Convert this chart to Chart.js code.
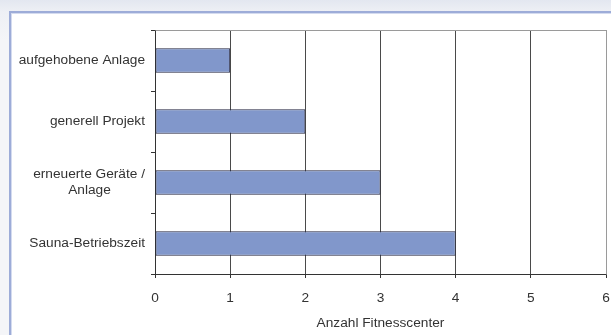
<!DOCTYPE html>
<html>
<head>
<meta charset="utf-8">
<script src="https://cdn.jsdelivr.net/npm/chart.js@4/dist/chart.umd.min.js"></script>
<style>
  html, body { margin: 0; padding: 0; }
  body {
    width: 611px; height: 335px; overflow: hidden; position: relative;
    background: linear-gradient(to bottom, #e3e7f0 0px, #eef0f5 12px, #f4f5f8 40px);
  }
  .panel {
    position: absolute; left: 9px; top: 11px; right: 0; bottom: 0;
    background: #fff;
    border-left: 2px solid #9dacd8; border-top: 2px solid #9dacd8;
    box-shadow: inset 1px 1px 0 #d4dbef;
  }
  #chart { position: absolute; left: 0; top: 0; }
</style>
</head>
<body>
<div class="panel"></div>
<canvas id="chart" width="611" height="335"></canvas>
<script>
const categories = [
  'aufgehobene Anlage',
  'generell Projekt',
  ['erneuerte Geräte /', 'Anlage'],
  'Sauna-Betriebszeit'
];
const counts = [1, 2, 3, 4];
const xTicks = [0, 1, 2, 3, 4, 5, 6];
const xTitle = 'Anzahl Fitnesscenter';

const fontFamily = '"Liberation Sans", Arial, sans-serif';
const fontSize = 13.7;
const textColor = '#333333';

// centre the lines of a two-line label, like the original
const measureCtx = document.createElement('canvas').getContext('2d');
measureCtx.font = fontSize + 'px ' + fontFamily;
const spaceWidth = measureCtx.measureText(' ').width;
function centreLines(lines) {
  const widths = lines.map(l => measureCtx.measureText(l).width);
  const widest = Math.max(...widths);
  return lines.map((l, i) => {
    const pad = Math.round((widest - widths[i]) / 2 / spaceWidth);
    return l + ' '.repeat(pad);
  });
}

// thin grey frame around the plot area (top and right)
const plotFrame = {
  id: 'plotFrame',
  afterDatasetsDraw(chart) {
    const { ctx, chartArea: a } = chart;
    ctx.save();
    ctx.strokeStyle = '#9a9a9a';
    ctx.lineWidth = 1;
    ctx.beginPath();
    ctx.moveTo(Math.round(a.left) + 0.5, Math.round(a.top) + 0.5);
    ctx.lineTo(Math.round(a.right) + 0.5, Math.round(a.top) + 0.5);
    ctx.lineTo(Math.round(a.right) + 0.5, Math.round(a.bottom) + 0.5);
    ctx.stroke();
    ctx.restore();
  }
};

new Chart(document.getElementById('chart'), {
  type: 'bar',
  data: {
    labels: categories,
    datasets: [{
      data: counts,
      backgroundColor: '#8197cb',
      borderColor: '#23253f',
      borderWidth: 1,
      borderSkipped: false,
      barPercentage: 0.4,
      categoryPercentage: 1
    }]
  },
  options: {
    indexAxis: 'y',
    responsive: false,
    animation: false,
    layout: { padding: { top: 30, right: 5, left: 0, bottom: 0 } },
    plugins: { legend: { display: false }, tooltip: { enabled: false } },
    scales: {
      x: {
        min: 0,
        max: 6,
        afterBuildTicks: scale => { scale.ticks = xTicks.map(v => ({ value: v })); },
        afterFit: scale => {
          scale.height = 61;
          scale.paddingLeft = 0;
          scale.paddingRight = 0;
        },
        grid: {
          color: ctx => (ctx.tick && ctx.tick.value === 6 ? '#9a9a9a' : '#4a4a4a'),
          tickLength: 4,
          tickColor: '#333333'
        },
        border: { color: '#333333' },
        ticks: {
          padding: 12,
          color: textColor,
          font: { family: fontFamily, size: fontSize }
        },
        title: {
          display: true,
          text: xTitle,
          color: textColor,
          font: { family: fontFamily, size: fontSize },
          padding: { top: 0, bottom: 4 }
        }
      },
      y: {
        afterFit: scale => { scale.width = 155; },
        grid: {
          drawOnChartArea: false,
          tickLength: 4,
          color: '#333333'
        },
        border: { color: '#333333' },
        ticks: {
          padding: 6,
          color: textColor,
          font: { family: fontFamily, size: fontSize },
          callback: function (value) {
            const label = this.getLabelForValue(value);
            return Array.isArray(label) ? centreLines(label) : label;
          }
        }
      }
    }
  },
  plugins: [plotFrame]
});
</script>
</body>
</html>
